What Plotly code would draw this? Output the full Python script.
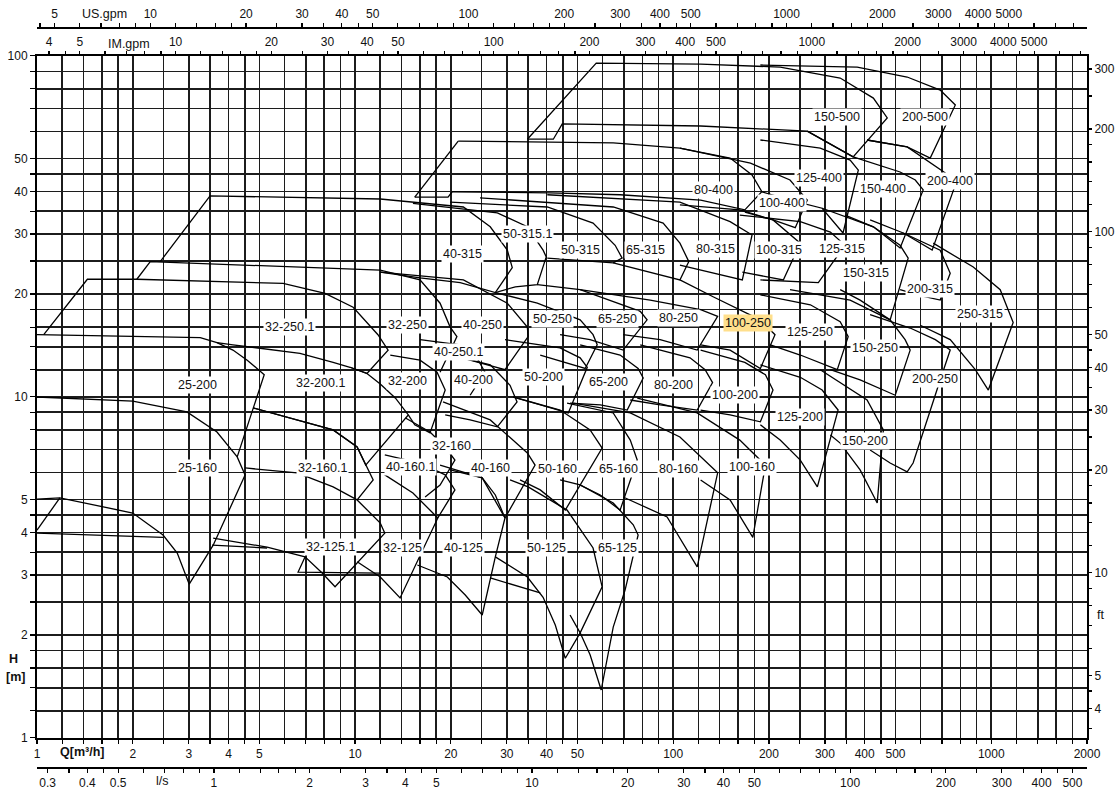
import math
import plotly.graph_objects as go

# ---------------- axis definitions ----------------
MANT = [1, 1.2, 1.4, 1.6, 1.8, 2, 2.5, 3, 3.5, 4, 4.5, 5, 6, 7, 8, 9]
Q_LABELS = [1, 2, 3, 4, 5, 10, 20, 30, 40, 50, 100, 200, 300, 400, 500, 1000, 2000]
H_LABELS = [1, 2, 3, 4, 5, 10, 20, 30, 40, 50, 100]
US_LABELS = [5, 10, 20, 30, 40, 50, 100, 200, 300, 400, 500, 1000, 2000, 3000, 4000, 5000]
IM_LABELS = [4, 5, 10, 20, 30, 40, 50, 100, 200, 300, 400, 500, 1000, 2000, 3000, 4000, 5000]
LS_LABELS = [0.3, 0.4, 0.5, 1, 2, 3, 4, 5, 10, 20, 30, 40, 50, 100, 200, 300, 400, 500]
FT_LABELS = [4, 5, 10, 20, 30, 40, 50, 100, 200, 300]

Q_MIN, Q_MAX = 1, 2000
H_MIN, H_MAX = 1, 100
US_PER_M3H = 4.40287
IM_PER_M3H = 3.66615
LS_PER_M3H = 1 / 3.6
FT_PER_M = 3.28084

# ---------------- pump tiles (Q [m3/h], H [m]) ----------------
P25_125_A = [(1.0, 4.06), (1.18, 5.05)]
P25_125_B = [(1.0, 3.98), (1.58, 3.93), (2.49, 3.87)]
P25_160 = [(1.0, 9.98), (2.0, 9.71), (2.96, 9.02), (3.68, 7.88), (4.26, 6.66), (4.51, 5.89), (3.58, 3.67),
           (3.01, 2.82), (2.76, 3.48), (2.49, 3.93), (2.0, 4.56), (1.18, 5.05), (1.0, 5.01)]
P25_200 = [(1.0, 15.2), (3.26, 14.9), (3.68, 14.4), (4.13, 13.7), (4.58, 12.8), (4.92, 12.1), (5.18, 11.6), (4.26, 6.66)]
P32_250_1 = [(1.05, 15.2), (1.44, 22.1), (2.06, 22.1), (5.94, 21.5), (8.05, 20.1), (9.86, 18.3), (11.8, 15.2),
             (12.7, 13.7), (10.9, 11.7), (9.64, 12.2), (8.53, 12.6), (6.71, 13.4), (4.13, 14.2), (3.68, 14.4)]
P32_200_1 = [(9.64, 12.2), (10.9, 11.7), (12.0, 10.9), (13.4, 9.9), (14.7, 8.84), (10.8, 6.30), (10.15, 7.12),
             (8.53, 7.99), (4.78, 9.27)]
P32_160_1 = [(4.78, 9.27), (8.53, 7.99), (10.15, 7.12), (11.4, 5.70), (10.15, 4.98), (8.53, 5.44), (6.57, 5.98), (4.51, 6.18)]
P32_125_1 = [(10.15, 4.98), (12.0, 4.26), (12.4, 3.98), (8.65, 2.77), (7.88, 3.04), (6.96, 3.39), (5.29, 3.62), (3.58, 3.85)]
P32_125_1_X = [(3.55, 3.67), (5.29, 3.60)]
P32_125_1_Y = [(6.96, 3.39), (6.62, 3.06), (12.0, 3.04)]
P32_250 = [(2.06, 22.1), (2.27, 24.9), (12.0, 23.5), (16.0, 22.0), (18.5, 18.8), (19.9, 16.0), (20.9, 15.0), (18.5, 11.8)]
P32_200 = [(12.9, 13.25), (16.0, 12.8), (18.1, 11.8), (19.2, 10.46), (17.2, 7.83), (15.4, 8.27), (14.7, 8.84)]
P32_160 = [(14.4, 8.66), (17.2, 7.88), (19.2, 7.12), (20.6, 6.52), (18.5, 5.51), (16.6, 5.08)]
P40_160_1 = [(12.4, 6.75), (16.0, 6.39), (19.2, 5.90), (20.6, 5.33), (18.2, 4.41)]
P32_125 = [(12.4, 5.90), (15.2, 5.22), (18.2, 4.41), (13.85, 2.57), (12.0, 2.96), (10.15, 3.28)]
P40_315 = [(2.44, 24.9), (3.50, 38.8), (12.0, 38.0), (21.9, 36.0), (26.6, 31.5), (30.1, 26.9), (31.2, 23.9),
           (27.6, 20.2), (21.4, 21.6), (16.0, 22.3), (12.0, 23.2)]
P50_315_1 = [(15.2, 36.9), (28.0, 34.6), (34.8, 31.5), (39.0, 26.9), (39.9, 25.7), (37.4, 21.3), (31.9, 21.0), (27.6, 20.2)]
P50_315 = [(19.9, 37.2), (40.2, 36.0), (56.0, 32.3), (65.7, 27.8), (69.1, 25.5), (64.8, 24.7), (40.2, 25.5)]
P65_315 = [(24.7, 38.3), (64.8, 36.0), (93.0, 32.3), (105, 28.2), (112, 24.9), (105, 22.0), (64.8, 24.7)]
P80_315 = [(40.2, 39.1), (105, 37.2), (151, 32.6), (177, 29.8), (165, 22.0), (122, 23.5), (105, 24.3)]
P100_315 = [(105, 36.5), (162, 35.3), (206, 33.0), (238, 29.4), (251, 28.2), (222, 22.0), (188, 22.7), (165, 23.2)]
P125_315 = [(162, 34.1), (251, 32.6), (312, 30.4), (347, 27.8), (286, 21.6), (251, 21.7), (188, 22.0)]
P150_315 = [(294, 35.7), (426, 31.5), (517, 27.8), (548, 25.5), (481, 16.8), (387, 19.2), (335, 20.6)]
P200_315 = [(416, 33.0), (529, 30.2), (691, 26.9), (743, 23.0), (691, 19.2), (598, 19.8), (517, 20.6)]
P250_315 = [(657, 28.2), (878, 24.0), (1067, 20.6), (1172, 16.5), (979, 10.46), (891, 12.0), (743, 14.7), (598, 16.2)]
P150_500 = [(34.8, 56.9), (57.3, 95.1), (122, 94.5), (217, 92.6), (335, 86.0), (426, 75.1), (471, 65.7), (368, 50.5),
            (264, 60.1), (122, 62.2), (44.8, 63.1), (42.0, 56.9), (34.8, 56.9)]
P200_500 = [(188, 93.9), (379, 92.6), (544, 86.6), (691, 79.3), (771, 71.7), (643, 50.1), (544, 54.0), (407, 56.6)]
R400_LEFT_A = [(15.4, 38.5), (21.1, 56.2)]
R400_LEFT_B = [(15.4, 38.5), (19.6, 38.5), (20.2, 39.9)]
P80_400 = [(21.1, 56.2), (64.8, 55.5), (105, 53.6), (151, 50.1), (177, 44.7), (190, 39.9), (168, 35.3), (122, 37.7),
           (68.1, 39.1), (41.0, 39.6), (20.2, 39.9)]
P100_400 = [(105, 53.6), (175, 48.4), (233, 43.2), (264, 37.7), (242, 31.3), (206, 33.0), (168, 34.8)]
P125_400 = [(188, 56.6), (290, 53.6), (360, 49.4), (382, 46.2), (342, 30.2), (294, 35.7), (233, 37.7), (190, 39.9)]
P150_400 = [(264, 60.1), (368, 50.5), (517, 45.6), (577, 43.2), (611, 40.4), (517, 27.3), (426, 31.5), (347, 34.1)]
P200_400 = [(407, 56.6), (544, 54.0), (717, 45.3), (771, 41.8), (652, 26.9), (577, 28.8), (529, 30.2)]
P40_250 = [(12.0, 23.2), (21.9, 22.0), (30.1, 18.8), (34.8, 16.0), (35.0, 15.0), (29.6, 12.0), (23.0, 12.8), (18.5, 13.5)]
P40_250_1 = [(16.0, 14.7), (21.4, 14.2), (24.4, 12.8), (25.6, 11.8), (23.0, 10.1)]
P50_250 = [(27.6, 20.2), (37.4, 18.8), (51.0, 16.8), (56.0, 15.2), (57.7, 14.2), (52.9, 12.1), (38.2, 13.25)]
P65_250 = [(37.4, 21.3), (51.0, 20.6), (78.8, 17.8), (82.8, 16.8), (69.6, 13.7), (54.8, 14.7), (44.1, 15.2)]
P80_250 = [(51.0, 20.6), (84.7, 19.2), (122, 18.0), (138, 17.2), (119, 13.7), (91.0, 14.7), (69.6, 15.2)]
P100_250 = [(105, 22.0), (134, 19.6), (188, 16.8), (209, 15.2), (188, 12.1), (151, 13.7), (122, 14.2)]
P125_250 = [(188, 19.9), (270, 18.6), (335, 16.6), (355, 15.0), (328, 12.0), (251, 13.25), (202, 14.2)]
P150_250 = [(233, 20.6), (360, 19.2), (481, 16.8), (536, 14.7), (556, 13.7), (499, 10.1), (387, 11.2), (312, 12.0)]
P200_250 = [(416, 17.4), (556, 15.9), (667, 14.7), (743, 13.7), (691, 11.2), (568, 6.39), (544, 6.02), (481, 6.39), (416, 6.98)]
P40_200 = [(18.5, 13.5), (26.6, 12.4), (30.7, 10.8), (32.3, 9.65), (28.0, 8.16), (23.0, 8.55), (19.2, 8.84)]
P50_200 = [(29.6, 14.7), (44.1, 13.9), (51.0, 13.0), (53.7, 12.2), (46.8, 8.96), (38.2, 9.46), (31.4, 9.98)]
P65_200 = [(51.0, 14.2), (68.1, 13.25), (77.6, 12.1), (80.5, 11.35), (71.7, 9.14), (59.0, 9.46), (47.4, 9.58)]
P80_200 = [(78.8, 14.2), (113, 13.0), (126, 12.0), (133, 11.0), (119, 9.14), (91.0, 9.46), (73.3, 9.78)]
P100_200 = [(122, 13.7), (168, 12.6), (195, 11.6), (206, 10.46), (188, 8.44), (151, 8.84), (122, 9.14)]
P125_200 = [(188, 12.4), (251, 11.4), (294, 10.46), (330, 9.14), (284, 5.44), (251, 6.52), (217, 7.46), (188, 8.27)]
P150_200 = [(290, 12.0), (407, 9.78), (458, 7.99), (438, 4.88), (387, 6.10), (335, 7.31), (312, 7.72)]
P40_160 = [(18.9, 9.65), (26.6, 8.55), (34.8, 6.84), (36.8, 6.30), (29.6, 4.41), (25.1, 5.78), (19.9, 6.10)]
P50_160 = [(31.4, 9.98), (44.1, 9.14), (54.8, 7.99), (59.8, 7.07), (45.8, 4.65), (38.2, 5.33), (33.0, 5.70)]
P65_160 = [(46.4, 9.58), (64.8, 8.96), (73.3, 7.46), (77.1, 6.52), (68.1, 4.65), (59.0, 5.15), (51.0, 5.51)]
P80_160 = [(48.5, 9.58), (73.3, 8.96), (105, 7.62), (138, 5.98), (119, 3.17), (95.7, 4.44), (69.6, 5.08)]
P100_160 = [(77.1, 9.91), (119, 8.96), (162, 7.46), (195, 6.30), (178, 3.87), (151, 4.98), (122, 5.70)]
P40_125 = [(18.5, 6.30), (25.1, 5.78), (27.6, 5.15), (29.6, 4.41), (27.6, 3.39), (25.1, 2.29), (22.2, 2.62),
           (19.5, 2.96), (15.7, 3.21)]
P50_125 = [(30.7, 5.70), (35.0, 5.44), (46.4, 4.65), (56.0, 3.60), (59.8, 2.77), (51.0, 2.03), (45.8, 1.71),
           (42.6, 2.14), (39.0, 2.58), (34.8, 2.96), (27.6, 3.39)]
P50_125_X = [(26.6, 2.94), (38.2, 2.66)]
P65_125 = [(44.1, 5.70), (51.0, 5.51), (64.8, 4.88), (74.9, 4.21), (77.6, 3.93), (70.6, 2.71), (64.8, 2.11),
           (59.4, 1.38), (54.8, 1.75), (51.0, 2.03), (47.4, 2.29)]

CURVES = [P25_125_A, P25_125_B, P25_160, P25_200, P32_250_1, P32_200_1, P32_160_1, P32_125_1, P32_125_1_X,
          P32_125_1_Y, P32_250, P32_200, P32_160, P40_160_1, P32_125, P40_315, P50_315_1, P50_315, P65_315,
          P80_315, P100_315, P125_315, P150_315, P200_315, P250_315, P150_500, P200_500, R400_LEFT_A,
          R400_LEFT_B, P80_400, P100_400, P125_400, P150_400, P200_400, P40_250, P40_250_1, P50_250, P65_250,
          P80_250, P100_250, P125_250, P150_250, P200_250, P40_200, P50_200, P65_200, P80_200, P100_200,
          P125_200, P150_200, P40_160, P50_160, P65_160, P80_160, P100_160, P40_125, P50_125, P50_125_X, P65_125]

# ---------------- tile labels ----------------
LABEL_TEXT = ["25-200", "25-160", "32-250.1", "32-200.1", "32-160.1", "32-125.1", "32-250", "32-200", "32-160",
              "40-160.1", "32-125", "40-315", "40-250", "40-250.1", "40-200", "40-160", "40-125", "50-315.1",
              "50-315", "50-250", "50-200", "50-160", "50-125", "65-315", "65-250", "65-200", "65-160", "65-125",
              "80-400", "80-315", "80-250", "80-200", "80-160", "100-400", "100-315", "100-250", "100-200",
              "100-160", "125-400", "125-315", "125-250", "125-200", "150-500", "150-400", "150-315", "150-250",
              "150-200", "200-500", "200-400", "200-315", "200-250", "250-315"]
LABEL_Q = [3.19, 3.19, 6.24, 7.76, 7.88, 8.35, 14.57, 14.57, 20.05, 14.89, 14.05, 21.7, 25.1, 21.1, 23.5, 26.58,
           21.86, 34.75, 51.0, 41.65, 39.0, 43.2, 39.9, 81.7, 66.7, 62.5, 67.2, 66.7, 133.6, 135.5, 103.7, 100,
           103.7, 220.2, 215.4, 172.1, 156.7, 177.2, 287.8, 339.9, 269.6, 250.8, 327.8, 457.5, 404.4, 431.7,
           401.5, 620.1, 743.1, 643.0, 666.7, 923.4]
LABEL_H = [10.8, 6.18, 16.0, 10.97, 6.18, 3.62, 16.24, 11.1, 7.16, 6.22, 3.60, 26.2, 16.24, 13.5, 11.19, 6.18,
           3.60, 30.0, 26.9, 16.9, 11.4, 6.14, 3.60, 26.9, 16.9, 11.04, 6.14, 3.60, 40.4, 27.1, 17.05, 10.8,
           6.14, 36.9, 26.9, 16.5, 10.1, 6.22, 43.8, 27.1, 15.5, 8.72, 66.1, 40.65, 23.0, 13.9, 7.41, 66.1,
           42.9, 20.7, 11.27, 17.5]
HIGHLIGHT = "100-250"

FONT = "Arial, Liberation Sans, Helvetica, sans-serif"
INK = "#111111"


def tick_set(lo, hi, labels):
    vals, text = [], []
    for e in range(-2, 5):
        for m in MANT:
            v = round(m * 10 ** e, 6)
            if lo * 0.9995 <= v <= hi * 1.0005:
                vals.append(v)
                text.append(f"{v:g}" if any(abs(v - l) < 1e-9 for l in labels) else "")
    return vals, text


fig = go.Figure()

for c in CURVES:
    fig.add_trace(go.Scatter(x=[p[0] for p in c], y=[p[1] for p in c], mode="lines",
                             line=dict(color="#000000", width=1.3), hoverinfo="skip", showlegend=False))

# helper traces so that every secondary axis is rendered
fig.add_trace(go.Scatter(x=[10 * IM_PER_M3H], y=[10], xaxis="x2", yaxis="y", mode="markers",
                         marker=dict(opacity=0, size=1), hoverinfo="skip", showlegend=False))
fig.add_trace(go.Scatter(x=[10 * US_PER_M3H], y=[10], xaxis="x3", yaxis="y", mode="markers",
                         marker=dict(opacity=0, size=1), hoverinfo="skip", showlegend=False))
fig.add_trace(go.Scatter(x=[10 * LS_PER_M3H], y=[10], xaxis="x4", yaxis="y", mode="markers",
                         marker=dict(opacity=0, size=1), hoverinfo="skip", showlegend=False))
fig.add_trace(go.Scatter(x=[10], y=[10 * FT_PER_M], xaxis="x", yaxis="y2", mode="markers",
                         marker=dict(opacity=0, size=1), hoverinfo="skip", showlegend=False))

W, H = 1118, 792
ML, MR, MT, MB = 37, 31, 5, 5
plot_h = H - MT - MB
y_bot_px, y_top_px = 737.7, 55.7
dom = [(H - MB - y_bot_px) / plot_h, (H - MB - y_top_px) / plot_h]
us_pos = (H - MB - 27) / plot_h
ls_pos = (H - MB - 767) / plot_h

qv, qt = tick_set(Q_MIN, Q_MAX, Q_LABELS)
hv, ht = tick_set(H_MIN, H_MAX, H_LABELS)
imv, imt = tick_set(Q_MIN * IM_PER_M3H, Q_MAX * IM_PER_M3H, IM_LABELS)
usv, ust = tick_set(Q_MIN * US_PER_M3H, Q_MAX * US_PER_M3H, US_LABELS)
lsv, lst = tick_set(Q_MIN * LS_PER_M3H, Q_MAX * LS_PER_M3H, LS_LABELS)
ftv, ftt = tick_set(H_MIN * FT_PER_M, H_MAX * FT_PER_M, FT_LABELS)

tickfont = dict(family=FONT, size=12, color=INK)
grid_col = "#1c1c1c"
common = dict(automargin=False, fixedrange=True, zeroline=False, tickmode="array", tickcolor="#000",
              tickwidth=1.2, tickfont=tickfont)

fig.update_layout(
    template="none",
    width=W, height=H, margin=dict(l=ML, r=MR, t=MT, b=MB, autoexpand=False),
    paper_bgcolor="white", plot_bgcolor="white", showlegend=False,
    font=dict(family=FONT, size=12, color=INK),
    xaxis=dict(type="log", range=[math.log10(Q_MIN), math.log10(Q_MAX)], tickvals=qv, ticktext=qt,
               tickangle=0, ticks="outside", ticklen=4, showgrid=True, gridcolor=grid_col, gridwidth=1.6,
               showline=True, linecolor="#000", linewidth=2, mirror=True, **common),
    yaxis=dict(type="log", range=[math.log10(H_MIN), math.log10(H_MAX)], domain=dom, tickvals=hv,
               ticktext=ht, ticks="outside", ticklen=5, showgrid=True, gridcolor=grid_col, gridwidth=1.6,
               showline=True, linecolor="#000", linewidth=2, mirror=True, **common),
    xaxis2=dict(type="log", overlaying="x", side="top", anchor="y",
                range=[math.log10(Q_MIN * IM_PER_M3H), math.log10(Q_MAX * IM_PER_M3H)], tickvals=imv,
                ticktext=imt, tickangle=0, ticks="outside", ticklen=4, showgrid=False, showline=False, **common),
    xaxis3=dict(type="log", overlaying="x", side="top", anchor="free", position=us_pos,
                range=[math.log10(Q_MIN * US_PER_M3H), math.log10(Q_MAX * US_PER_M3H)], tickvals=usv,
                ticktext=ust, tickangle=0, ticks="outside", ticklen=4, showgrid=False, showline=True,
                linecolor="#000", linewidth=1.5, **common),
    xaxis4=dict(type="log", overlaying="x", side="bottom", anchor="free", position=ls_pos,
                range=[math.log10(Q_MIN * LS_PER_M3H), math.log10(Q_MAX * LS_PER_M3H)], tickvals=lsv,
                ticktext=lst, tickangle=0, ticks="outside", ticklen=4, showgrid=False, showline=True,
                linecolor="#000", linewidth=1.5, **common),
    yaxis2=dict(type="log", overlaying="y", side="right", anchor="x",
                range=[math.log10(H_MIN * FT_PER_M), math.log10(H_MAX * FT_PER_M)], tickvals=ftv,
                ticktext=ftt, ticks="outside", ticklen=4, showgrid=False, showline=False, **common),
)

ann = []
for t, q, h in zip(LABEL_TEXT, LABEL_Q, LABEL_H):
    ann.append(dict(x=math.log10(q), y=math.log10(h), xref="x", yref="y", text=t, showarrow=False,
                    font=dict(family=FONT, size=12.5, color=INK),
                    bgcolor="#FFDF8C" if t == HIGHLIGHT else "white", borderpad=1))


def px_x(px):
    return (px - ML) / (W - ML - MR)


def px_y(py):
    return (H - MB - py) / plot_h


for txt, x, y, bold in [("Q[m³/h]", 82, 752, True), ("l/s", 162, 781, False), ("US.gpm", 104, 14, False),
                        ("IM.gpm", 129, 44, False), ("H", 13, 659, True), ("[m]", 15, 677, True),
                        ("ft", 1100, 615, False)]:
    ann.append(dict(x=px_x(x), y=px_y(y), xref="paper", yref="paper", text=f"<b>{txt}</b>" if bold else txt,
                    showarrow=False, font=dict(family=FONT, size=12.5, color=INK), xanchor="center",
                    yanchor="middle"))

fig.update_layout(annotations=ann)
fig.write_html("out.html", config={"displayModeBar": False, "staticPlot": True},
               post_script="document.body.style.margin='0';document.body.style.overflow='hidden';")
